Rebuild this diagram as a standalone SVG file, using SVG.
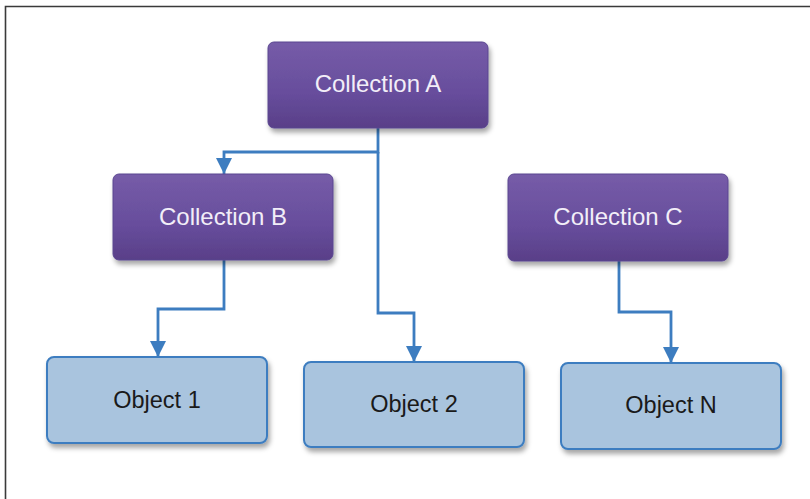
<svg xmlns="http://www.w3.org/2000/svg" width="810" height="499" viewBox="0 0 810 499">
<style>
.col{stroke:#5a4690;stroke-width:1;filter:url(#sh)}
.obj{fill:#a9c4de;stroke:#3d7dc0;stroke-width:2;filter:url(#sh)}
.ct{font-family:"Liberation Sans",Arial,sans-serif;font-size:24px;fill:#f2eef8;text-anchor:middle}
.ot{font-family:"Liberation Sans",Arial,sans-serif;font-size:23.5px;fill:#1a1a1a;text-anchor:middle}
.cn{fill:none;stroke:#3d7dc0;stroke-width:2.8;marker-end:url(#ah)}
</style>
<defs>
<linearGradient id="pg" x1="0" y1="0" x2="0" y2="1">
<stop offset="0" stop-color="#765ca8"/>
<stop offset="0.6" stop-color="#674d9c"/>
<stop offset="1" stop-color="#593f88"/>
</linearGradient>
<filter id="sh" x="-10%" y="-10%" width="125%" height="135%">
<feDropShadow dx="2" dy="4" stdDeviation="2.5" flood-color="#000" flood-opacity="0.35"/>
</filter>
<marker id="ah" viewBox="0 0 10 10" refX="10" refY="5" markerWidth="16" markerHeight="16" markerUnits="userSpaceOnUse" orient="auto">
<path d="M0,0 L10,5 L0,10 Z" fill="#3d7dc0"/>
</marker>
</defs>
<rect width="810" height="499" fill="#fff"/>
<path d="M5.5,499 V6.5 H810" fill="none" stroke="#3a3a3a" stroke-width="1.6"/>
<g id="connectors">
<path class="cn" d="M378,128 V152 H224 V174"/>
<path class="cn" d="M378,152 V313 H414 V362"/>
<path class="cn" d="M224,260 V309 H158 V357"/>
<path class="cn" d="M619,261 V312 H671 V363"/>
</g>
<g id="collectionA">
<rect class="col" x="268" y="42" width="220" height="86" rx="6" fill="url(#pg)"/>
<text class="ct" x="378" y="92">Collection A</text>
</g>
<g id="collectionB">
<rect class="col" x="113" y="174" width="220" height="86" rx="6" fill="url(#pg)"/>
<text class="ct" x="223" y="225">Collection B</text>
</g>
<g id="collectionC">
<rect class="col" x="508" y="174" width="220" height="87" rx="6" fill="url(#pg)"/>
<text class="ct" x="618" y="225">Collection C</text>
</g>
<g id="object1">
<rect class="obj" x="47" y="357" width="220" height="86" rx="7"/>
<text class="ot" x="157" y="408">Object 1</text>
</g>
<g id="object2">
<rect class="obj" x="304" y="362" width="220" height="85" rx="7"/>
<text class="ot" x="414" y="412">Object 2</text>
</g>
<g id="objectN">
<rect class="obj" x="561" y="363" width="220" height="86" rx="7"/>
<text class="ot" x="671" y="413">Object N</text>
</g>
</svg>
